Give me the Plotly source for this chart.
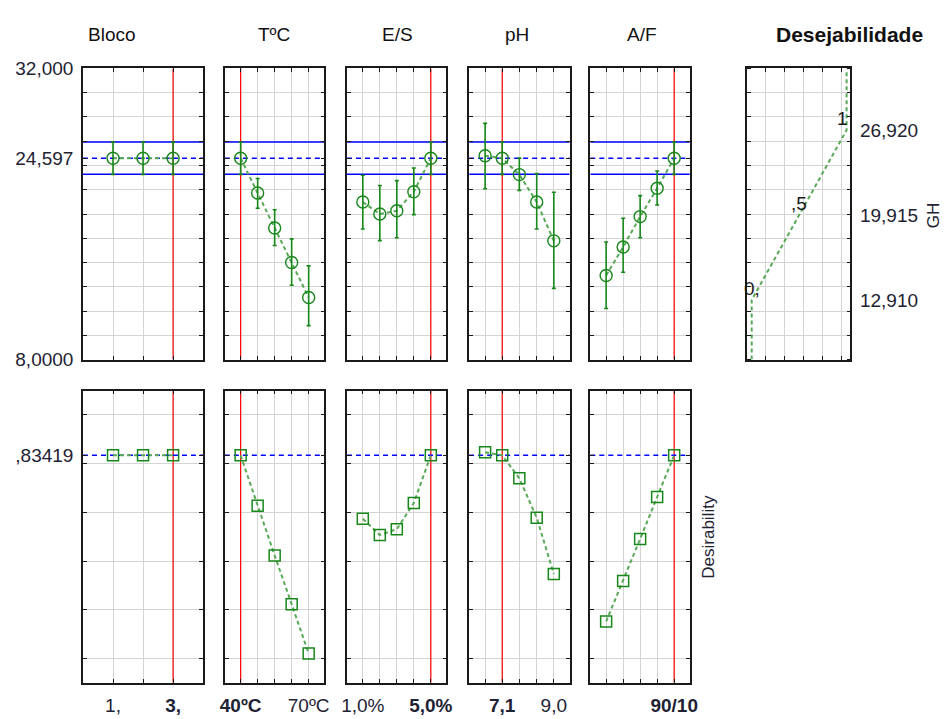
import plotly.graph_objects as go

# ---------------- data ----------------
FACTORS = ["Bloco", "TºC", "E/S", "pH", "A/F"]

# level positions on each factor axis and the labels printed under them
BLOCO_LEVELS = [1, 2, 3]
BLOCO_LABELS = ["1,", "", "<b>3,</b>"]
T_LEVELS = [40, 47.5, 55, 62.5, 70]
T_LABELS = ["<b>40ºC</b>", "", "", "", "70ºC"]
ES_LEVELS = [1, 2, 3, 4, 5]
ES_LABELS = ["1,0%", "", "", "", "<b>5,0%</b>"]
PH_LEVELS = [6.47, 7.1, 7.73, 8.37, 9.0]
PH_LABELS = ["", "<b>7,1</b>", "", "", "9,0"]
AF_LEVELS = [50, 60, 70, 80, 90]
AF_LABELS = ["", "", "", "", "<b>90/10</b>"]

# current (optimum) setting of each factor
CURRENT = [3, 40, 5, 7.1, 90]

# predicted GH at each level, with confidence limits
BLOCO_GH = [24.597, 24.597, 24.597]
BLOCO_HI = [25.93, 25.93, 25.93]
BLOCO_LO = [23.27, 23.27, 23.27]
T_GH = [24.597, 21.73, 18.85, 16.00, 13.12]
T_HI = [25.93, 22.93, 20.35, 17.95, 15.73]
T_LO = [23.27, 20.48, 17.41, 14.13, 10.80]
ES_GH = [20.99, 20.00, 20.27, 21.84, 24.597]
ES_HI = [23.20, 22.35, 22.75, 23.79, 25.93]
ES_LO = [18.77, 17.81, 18.05, 19.95, 23.27]
PH_GH = [24.80, 24.597, 23.25, 20.99, 17.79]
PH_HI = [27.47, 25.93, 24.61, 23.33, 21.79]
PH_LO = [22.08, 23.27, 21.95, 18.77, 13.87]
AF_GH = [14.93, 17.28, 19.79, 22.13, 24.597]
AF_HI = [17.70, 19.65, 21.52, 23.55, 25.93]
AF_LO = [12.21, 15.20, 18.05, 20.75, 23.27]

# desirability at each level
BLOCO_D = [0.83419, 0.83419, 0.83419]
T_D = [0.83419, 0.627, 0.423, 0.223, 0.020]
ES_D = [0.574, 0.507, 0.531, 0.639, 0.83419]
PH_D = [0.847, 0.83419, 0.740, 0.578, 0.347]
AF_D = [0.152, 0.318, 0.491, 0.663, 0.83419]

GH_CURRENT = 24.597
GH_CI_LO = 23.27
GH_CI_HI = 25.93
D_CURRENT = 0.83419

# desirability function for GH
DES_GH = [12.910, 19.915, 26.920]
DES_VAL = [0.0, 0.5, 1.0]
DES_GH_LABELS = ["12,910", "19,915", "26,920"]
DES_VAL_LABELS = ["0,", ",5", "1"]

GH_RANGE = [8, 32]
D_RANGE = [-0.1, 1.1]

# ---------------- layout helpers ----------------
OFF = 8                     # default page margin around the plot div
FW, FH = 943, 711           # figure size
COLS = [(78, 200), (222, 323), (346, 447), (470, 572), (593, 694)]
TOP = (60, 360)
BOT = (392, 693)
DES_COL = (752, 857)

TXT = "#1e2233"
FONT = "Arial, Liberation Sans, sans-serif"
GREEN = "#17871a"
GREEN_L = "#58a858"
GRID = "#d4d4d4"


def px(v):
    return (v - OFF) / FW


def py(v):
    return 1 - (v - OFF) / FH


def xd(a, b):
    return [px(a), px(b)]


def yd(a, b):
    return [py(b), py(a)]


levels = [BLOCO_LEVELS, T_LEVELS, ES_LEVELS, PH_LEVELS, AF_LEVELS]
labels = [BLOCO_LABELS, T_LABELS, ES_LABELS, PH_LABELS, AF_LABELS]
ghs = [BLOCO_GH, T_GH, ES_GH, PH_GH, AF_GH]
his = [BLOCO_HI, T_HI, ES_HI, PH_HI, AF_HI]
los = [BLOCO_LO, T_LO, ES_LO, PH_LO, AF_LO]
ds = [BLOCO_D, T_D, ES_D, PH_D, AF_D]

fig = go.Figure()
layout = dict(
    width=FW, height=FH, autosize=False,
    margin=dict(l=0, r=0, t=0, b=0),
    paper_bgcolor="white", plot_bgcolor="white",
    showlegend=False,
    font=dict(family=FONT, size=19, color=TXT),
)
annotations = []


def axis_common():
    return dict(showline=True, linecolor="#1a1a1a", linewidth=1.5, mirror="ticks",
                ticks="inside", ticklen=4, tickcolor="#1a1a1a", tickwidth=1,
                showgrid=True, gridcolor=GRID, gridwidth=1, zeroline=False,
                fixedrange=True, tickfont=dict(family=FONT, size=19, color=TXT))


def xrange_for(lv):
    if len(lv) == 3:
        step = lv[1] - lv[0]
        return [lv[0] - step, lv[-1] + step]
    step = (lv[-1] - lv[0]) / (len(lv) - 1)
    return [lv[0] - 0.93 * step, lv[-1] + 0.92 * step]


def hline(xr, yr, xrng, val, dash):
    fig.add_trace(go.Scatter(x=xrng, y=[val, val], xaxis=xr, yaxis=yr, mode="lines",
                             line=dict(color="#0000ff", width=1.5, dash=dash),
                             hoverinfo="skip", cliponaxis=True))


ax = 0
for i in range(5):
    lv = levels[i]
    xrng = xrange_for(lv)
    for row in range(2):
        ax += 1
        xa = f"xaxis{ax}" if ax > 1 else "xaxis"
        ya = f"yaxis{ax}" if ax > 1 else "yaxis"
        xr = f"x{ax}" if ax > 1 else "x"
        yr = f"y{ax}" if ax > 1 else "y"
        xcfg = axis_common()
        xcfg.update(domain=xd(*COLS[i]), range=xrng, anchor=yr,
                    tickmode="array", tickvals=lv,
                    ticktext=labels[i], showticklabels=(row == 1),
                    ticklabelstandoff=5)
        ycfg = axis_common()
        ycfg.update(anchor=xr, ticklabelstandoff=4)
        yrng = GH_RANGE if row == 0 else D_RANGE
        if row == 0:
            ycfg.update(domain=yd(*TOP), range=GH_RANGE,
                        tickmode="array",
                        tickvals=[GH_RANGE[0], GH_CURRENT, GH_RANGE[1]],
                        ticktext=["8,0000", "24,597", "32,000"],
                        showticklabels=(i == 0), showgrid=False,
                        minor=dict(dtick=2, tick0=GH_RANGE[0], showgrid=True,
                                   gridcolor=GRID, ticks="inside", ticklen=4,
                                   tickcolor="#1a1a1a"))
        else:
            ycfg.update(domain=yd(*BOT), range=D_RANGE,
                        tickmode="array", tickvals=[D_CURRENT],
                        ticktext=[",83419"],
                        showticklabels=(i == 0), showgrid=False,
                        minor=dict(dtick=0.2, tick0=0, showgrid=True,
                                   gridcolor=GRID, ticks="inside", ticklen=4,
                                   tickcolor="#1a1a1a"))
        layout[xa] = xcfg
        layout[ya] = ycfg

        # red line at current setting
        fig.add_trace(go.Scatter(x=[CURRENT[i], CURRENT[i]], y=yrng, xaxis=xr, yaxis=yr,
                                 mode="lines", line=dict(color="#ff0000", width=1.2),
                                 hoverinfo="skip"))
        if row == 0:
            hline(xr, yr, xrng, GH_CI_HI, "solid")
            hline(xr, yr, xrng, GH_CURRENT, "5px,4px")
            hline(xr, yr, xrng, GH_CI_LO, "solid")
            y = ghs[i]
            fig.add_trace(go.Scatter(
                x=lv, y=y, xaxis=xr, yaxis=yr, mode="lines",
                line=dict(color=GREEN_L, width=2, dash="4px,3px"),
                hoverinfo="skip"))
            fig.add_trace(go.Scatter(
                x=lv, y=y, xaxis=xr, yaxis=yr, mode="markers",
                marker=dict(symbol="circle-open", size=12, color=GREEN,
                            line=dict(width=1.4, color=GREEN)),
                error_y=dict(type="data", symmetric=False,
                             array=[h - v for h, v in zip(his[i], y)],
                             arrayminus=[v - l for l, v in zip(los[i], y)],
                             color=GREEN, thickness=1.6, width=2)))
        else:
            hline(xr, yr, xrng, D_CURRENT, "5px,4px")
            fig.add_trace(go.Scatter(
                x=lv, y=ds[i], xaxis=xr, yaxis=yr, mode="lines",
                line=dict(color=GREEN_L, width=2, dash="4px,3px"),
                hoverinfo="skip"))
            fig.add_trace(go.Scatter(
                x=lv, y=ds[i], xaxis=xr, yaxis=yr, mode="markers",
                marker=dict(symbol="square-open", size=11, color=GREEN,
                            line=dict(width=1.5, color=GREEN))))

# desirability function panel
ax += 1
xr, yr = f"x{ax}", f"y{ax}"
xcfg = axis_common()
xcfg.update(domain=xd(*DES_COL), range=[-0.05, 1.04], anchor=yr,
            tickmode="array", tickvals=[0.145, 0.345, 0.545, 0.745, 0.945],
            showticklabels=False)
ycfg = axis_common()
ycfg.update(domain=yd(*TOP), range=GH_RANGE, anchor=xr, side="right",
            tickmode="array", tickvals=DES_GH, ticktext=DES_GH_LABELS,
            ticks="", showgrid=False, ticklabelstandoff=4,
            minor=dict(dtick=2, tick0=GH_RANGE[0], showgrid=True, gridcolor=GRID,
                       ticks="inside", ticklen=4, tickcolor="#1a1a1a"))
layout[f"xaxis{ax}"] = xcfg
layout[f"yaxis{ax}"] = ycfg
fig.add_trace(go.Scatter(
    x=[DES_VAL[0]] + DES_VAL + [DES_VAL[-1]],
    y=[GH_RANGE[0]] + DES_GH + [GH_RANGE[1]],
    xaxis=xr, yaxis=yr, mode="lines",
    line=dict(color=GREEN_L, width=2, dash="4px,3px"), hoverinfo="skip"))
for v, g, t, xs in zip(DES_VAL, DES_GH, DES_VAL_LABELS, [0, 0, -4]):
    annotations.append(dict(x=v, y=g, xref=xr, yref=yr, text=t, showarrow=False,
                            yshift=12, xshift=xs,
                            font=dict(family=FONT, size=19, color="#1a1a1a")))

# column titles
for name, cx in zip(FACTORS, [107, 272, 397, 519, 645]):
    annotations.append(dict(x=px(cx), y=py(25), xref="paper", yref="paper",
                            text=name, showarrow=False, xanchor="center", yanchor="middle",
                            font=dict(family=FONT, size=19, color="#111")))
annotations.append(dict(x=px(856), y=py(25), xref="paper", yref="paper",
                        text="<b>Desejabilidade</b>", showarrow=False,
                        xanchor="center", yanchor="middle",
                        font=dict(family=FONT, size=21, color="#111")))
annotations.append(dict(x=px(941), y=py(211), xref="paper", yref="paper",
                        text="GH", textangle=-90, showarrow=False,
                        xanchor="center", yanchor="middle",
                        font=dict(family=FONT, size=17, color=TXT)))
annotations.append(dict(x=px(713), y=py(543), xref="paper", yref="paper",
                        text="Desirability", textangle=-90, showarrow=False,
                        xanchor="center", yanchor="middle",
                        font=dict(family=FONT, size=17, color=TXT)))

layout["annotations"] = annotations
fig.update_layout(**layout)
fig.write_html("out.html")
